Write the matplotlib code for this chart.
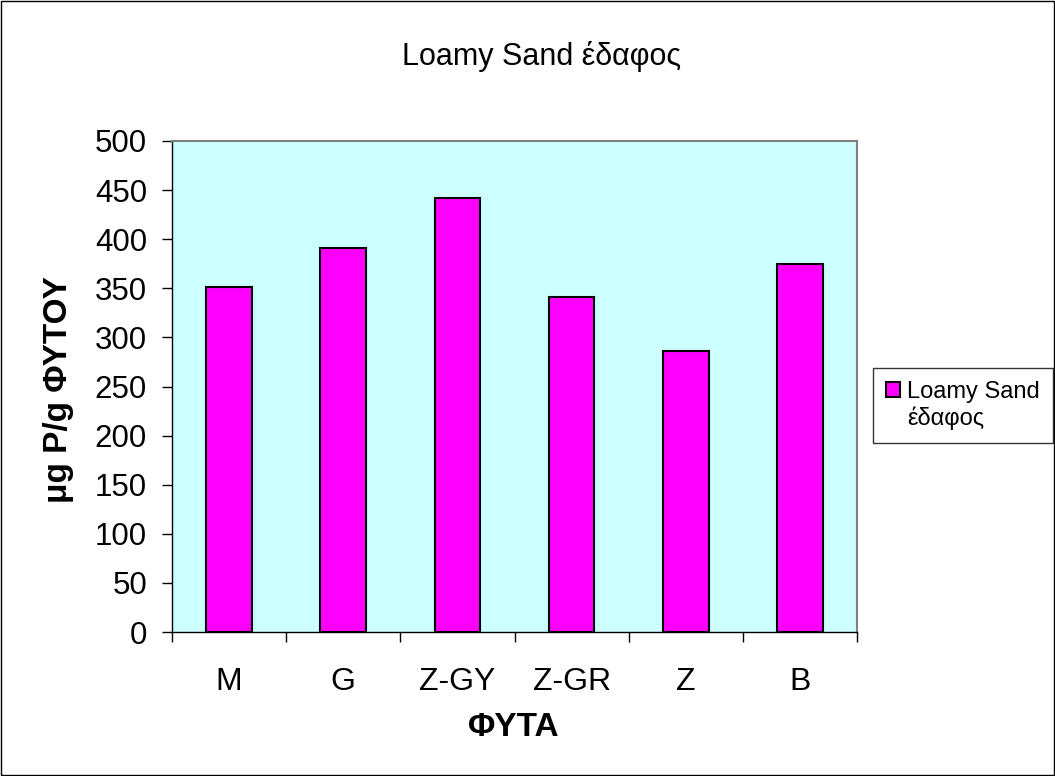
import matplotlib.pyplot as plt
from matplotlib.patches import Rectangle

plt.rcParams['font.family'] = ['Liberation Sans', 'DejaVu Sans']

categories = ["M", "G", "Z-GY", "Z-GR", "Z", "B"]
values = [351, 391, 442, 341, 286, 375]
series_name = "Loamy Sand έδαφος"

W, H = 1055, 776
fig = plt.figure(figsize=(W / 100, H / 100), dpi=100)
fig.patches.append(Rectangle((0.001, 0.001), 0.998, 0.998, transform=fig.transFigure,
                             fill=False, edgecolor="black", linewidth=1.0))

# plot area in pixels: x 172..857, y 141..632
ax = fig.add_axes([172 / W, 1 - 632 / H, (857 - 172) / W, (632 - 141) / H])
ax.set_facecolor("#ccffff")
x = list(range(len(categories)))
bars = ax.bar(x, values, width=0.4, color="#ff00ff", edgecolor="black", linewidth=1.5)

ax.set_xlim(-0.5, len(categories) - 0.5)
ax.set_ylim(0, 500)
ax.set_yticks(range(0, 501, 50))
ax.tick_params(axis="y", labelsize=22.5, length=7, width=1.0, direction="out", pad=11)
ax.set_xticks([i - 0.5 for i in range(len(categories) + 1)])
ax.set_xticklabels([])
ax.set_xticks(x, minor=True)
ax.set_xticklabels(categories, minor=True, fontsize=23)
ax.tick_params(axis="x", which="major", length=7, width=1.0, direction="out")
ax.tick_params(axis="x", which="minor", length=0, pad=25)

for s in ["top", "right"]:
    ax.spines[s].set_color("#808080")
    ax.spines[s].set_linewidth(1.5)
for s in ["left", "bottom"]:
    ax.spines[s].set_color("black")
    ax.spines[s].set_linewidth(1.0)

fig.text(58 / W, 1 - 390 / H, "μg P/g ΦΥΤΟΥ", rotation=90, ha="center", va="center",
         fontsize=24, fontweight="bold")
fig.text(513 / W, 1 - 728 / H, "ΦΥΤΑ", ha="center", va="center",
         fontsize=24, fontweight="bold")
fig.text(542 / W, 1 - 56 / H, series_name, ha="center", va="center", fontsize=22)

# second legend row carries the wrapped part of the series name
blank = Rectangle((0, 0), 1, 1, alpha=0)
leg = fig.legend(handles=[bars, blank], labels=["Loamy Sand", "έδαφος"], loc="upper left",
                 bbox_to_anchor=(873 / W, 1 - 368 / H), fontsize=17, frameon=True,
                 fancybox=False, edgecolor="black", handlelength=0.6, handleheight=0.6,
                 handletextpad=0.3, borderpad=0.55, labelspacing=0.15, borderaxespad=0)
leg.get_frame().set_linewidth(1.0)

fig.savefig("out.png", dpi=100)
